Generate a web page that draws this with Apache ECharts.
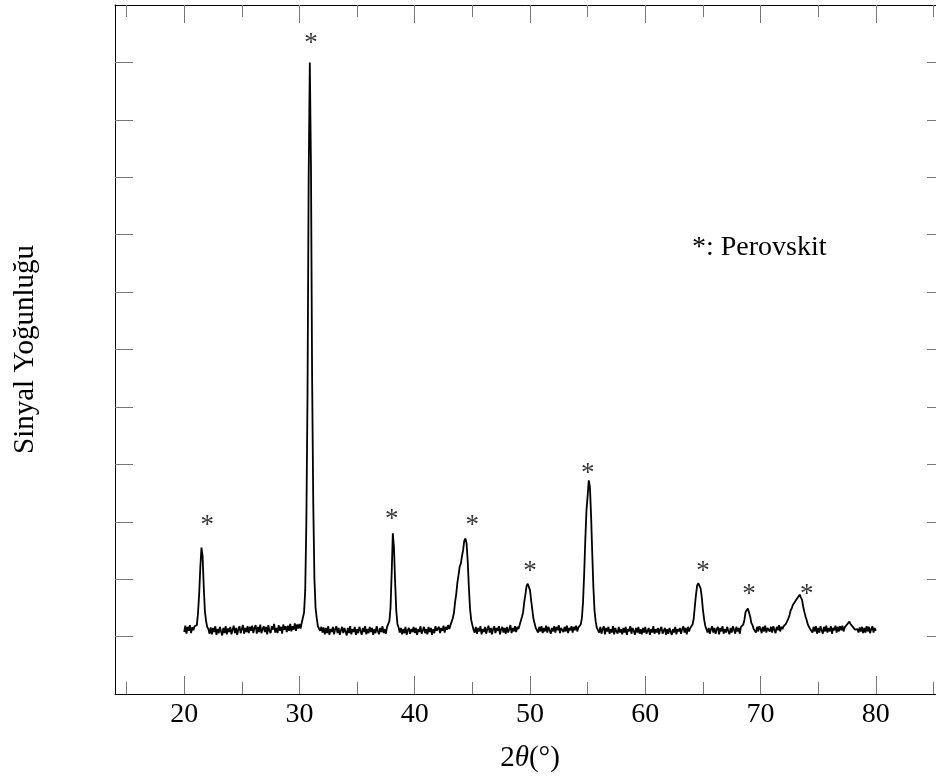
<!DOCTYPE html>
<html>
	<head>
		<meta charset="UTF-8">
		<title>XRD - Perovskit</title>
		<script type="text/javascript" src="https://cdn.jsdelivr.net/npm/echarts@6.0.0/dist/echarts.min.js"></script>
		<style>
			html, body { margin: 0; padding: 0; background: #fff; }
			#chart { width: 936px; height: 780px; }
		</style>
	</head>
	<body>
		<div id="chart"></div>
		<script type="text/javascript">
			// 2θ ölçüm aralığı: 20.0'dan başlayıp 0.1° adımla
			var twoThetaStart = 20.0;
			var twoThetaStep = 0.1;
			// sinyal (her satır 1°: x.0 ... x.9)
			var intensity = [
				0.08, 0.19, 0.05, 0.17, 0.10, 0.20, 0.06, 0.16, 0.11, 0.18, // 20
				0.17, 0.20, 0.41, 0.74, 1.20, 1.55, 1.40, 0.86, 0.44, 0.27, // 21
				0.17, 0.13, 0.05, 0.16, 0.04, 0.15, 0.08, 0.18, 0.03, 0.13, // 22
				0.06, 0.17, 0.09, 0.02, 0.15, 0.06, 0.18, 0.04, 0.14, 0.08, // 23
				0.17, 0.04, 0.12, 0.19, 0.06, 0.15, 0.03, 0.13, 0.18, 0.06, // 24
				0.13, 0.20, 0.05, 0.15, 0.08, 0.18, 0.06, 0.17, 0.10, 0.19, // 25
				0.06, 0.15, 0.20, 0.05, 0.17, 0.08, 0.21, 0.06, 0.13, 0.18, // 26
				0.08, 0.17, 0.04, 0.20, 0.10, 0.06, 0.18, 0.12, 0.22, 0.07, // 27
				0.15, 0.06, 0.20, 0.10, 0.17, 0.05, 0.21, 0.12, 0.18, 0.08, // 28
				0.19, 0.10, 0.22, 0.09, 0.18, 0.12, 0.23, 0.10, 0.21, 0.14, // 29
				0.22, 0.14, 0.24, 0.27, 0.42, 0.80, 2.00, 4.20, 8.00, 10.00, // 30
				8.20, 4.50, 2.30, 1.00, 0.50, 0.32, 0.18, 0.20, 0.10, 0.17, // 31
				0.07, 0.16, 0.04, 0.15, 0.06, 0.18, 0.03, 0.13, 0.08, 0.17, // 32
				0.04, 0.13, 0.18, 0.06, 0.15, 0.03, 0.11, 0.17, 0.06, 0.15, // 33
				0.09, 0.02, 0.15, 0.06, 0.18, 0.04, 0.13, 0.08, 0.17, 0.03, // 34
				0.13, 0.06, 0.17, 0.10, 0.03, 0.15, 0.08, 0.18, 0.04, 0.13, // 35
				0.06, 0.17, 0.08, 0.15, 0.03, 0.13, 0.06, 0.18, 0.10, 0.04, // 36
				0.15, 0.08, 0.18, 0.06, 0.13, 0.05, 0.17, 0.15, 0.27, 0.50, // 37
				1.10, 1.80, 1.55, 0.95, 0.45, 0.22, 0.16, 0.07, 0.15, 0.04, // 38
				0.13, 0.06, 0.17, 0.03, 0.11, 0.15, 0.05, 0.13, 0.08, 0.17, // 39
				0.06, 0.15, 0.03, 0.13, 0.08, 0.18, 0.05, 0.11, 0.17, 0.06, // 40
				0.13, 0.04, 0.17, 0.08, 0.15, 0.03, 0.13, 0.06, 0.18, 0.10, // 41
				0.08, 0.17, 0.06, 0.15, 0.10, 0.19, 0.07, 0.17, 0.12, 0.20, // 42
				0.13, 0.20, 0.21, 0.32, 0.41, 0.60, 0.74, 0.94, 1.07, 1.22, // 43
				1.27, 1.40, 1.51, 1.67, 1.71, 1.62, 1.30, 0.85, 0.48, 0.29, // 44
				0.20, 0.12, 0.07, 0.17, 0.05, 0.15, 0.09, 0.18, 0.04, 0.13, // 45
				0.08, 0.17, 0.05, 0.13, 0.19, 0.07, 0.15, 0.04, 0.13, 0.18, // 46
				0.06, 0.15, 0.10, 0.18, 0.04, 0.13, 0.17, 0.07, 0.15, 0.05, // 47
				0.17, 0.07, 0.13, 0.20, 0.06, 0.15, 0.09, 0.18, 0.08, 0.17, // 48
				0.13, 0.20, 0.23, 0.34, 0.42, 0.60, 0.73, 0.88, 0.92, 0.90, // 49
				0.81, 0.63, 0.47, 0.31, 0.23, 0.15, 0.14, 0.07, 0.17, 0.09, // 50
				0.18, 0.06, 0.15, 0.09, 0.19, 0.07, 0.17, 0.11, 0.05, 0.15, // 51
				0.09, 0.18, 0.07, 0.17, 0.11, 0.20, 0.06, 0.15, 0.18, 0.08, // 52
				0.17, 0.09, 0.19, 0.06, 0.15, 0.11, 0.18, 0.07, 0.17, 0.11, // 53
				0.19, 0.09, 0.16, 0.15, 0.21, 0.32, 0.60, 1.10, 1.70, 2.20, // 54
				2.45, 2.72, 2.60, 2.10, 1.45, 0.85, 0.45, 0.26, 0.15, 0.14, // 55
				0.07, 0.17, 0.05, 0.13, 0.18, 0.04, 0.15, 0.09, 0.17, 0.05, // 56
				0.13, 0.07, 0.18, 0.04, 0.15, 0.09, 0.05, 0.17, 0.07, 0.13, // 57
				0.04, 0.15, 0.07, 0.17, 0.03, 0.13, 0.09, 0.18, 0.05, 0.15, // 58
				0.10, 0.03, 0.15, 0.07, 0.17, 0.05, 0.13, 0.04, 0.15, 0.07, // 59
				0.17, 0.05, 0.10, 0.15, 0.03, 0.13, 0.07, 0.18, 0.05, 0.13, // 60
				0.07, 0.15, 0.04, 0.13, 0.17, 0.05, 0.10, 0.15, 0.03, 0.13, // 61
				0.05, 0.15, 0.09, 0.03, 0.13, 0.07, 0.17, 0.04, 0.13, 0.09, // 62
				0.15, 0.05, 0.13, 0.18, 0.07, 0.15, 0.04, 0.17, 0.09, 0.15, // 63
				0.13, 0.21, 0.31, 0.53, 0.73, 0.89, 0.93, 0.96, 0.84, 0.69, // 64
				0.47, 0.31, 0.19, 0.16, 0.07, 0.15, 0.05, 0.13, 0.18, 0.07, // 65
				0.15, 0.05, 0.13, 0.17, 0.04, 0.15, 0.09, 0.18, 0.05, 0.13, // 66
				0.07, 0.17, 0.10, 0.04, 0.15, 0.07, 0.18, 0.12, 0.05, 0.17, // 67
				0.09, 0.15, 0.05, 0.17, 0.14, 0.21, 0.29, 0.43, 0.46, 0.49, // 68
				0.42, 0.35, 0.24, 0.20, 0.13, 0.15, 0.07, 0.17, 0.09, 0.18, // 69
				0.13, 0.06, 0.17, 0.09, 0.19, 0.07, 0.15, 0.18, 0.09, 0.17, // 70
				0.07, 0.18, 0.12, 0.06, 0.17, 0.11, 0.20, 0.09, 0.17, 0.13, // 71
				0.18, 0.16, 0.22, 0.24, 0.31, 0.36, 0.45, 0.49, 0.55, 0.56, // 72
				0.61, 0.61, 0.67, 0.68, 0.73, 0.68, 0.64, 0.52, 0.43, 0.35, // 73
				0.29, 0.21, 0.19, 0.13, 0.15, 0.07, 0.17, 0.09, 0.18, 0.05, // 74
				0.15, 0.07, 0.18, 0.11, 0.05, 0.17, 0.09, 0.19, 0.07, 0.15, // 75
				0.09, 0.18, 0.05, 0.15, 0.11, 0.19, 0.07, 0.17, 0.09, 0.18, // 76
				0.11, 0.19, 0.09, 0.16, 0.15, 0.21, 0.19, 0.26, 0.22, 0.25, // 77
				0.17, 0.19, 0.12, 0.15, 0.13, 0.07, 0.16, 0.09, 0.17, 0.06, // 78
				0.15, 0.07, 0.18, 0.09, 0.17, 0.06, 0.13, 0.18, 0.07, 0.15, // 79
				0.10                                                        // 80
			];
			// perovskit işaretleri (*)
			var markerX = [22, 31, 38, 45, 50, 55, 65, 69, 74];
			var markerY = [2, 10.4, 2.1, 2, 1.2, 2.9, 1.2, 0.8, 0.8];
			// eksen çentikleri
			var majorTicksX = [20, 30, 40, 50, 60, 70, 80];
			var minorTicksX = [15, 25, 35, 45, 55, 65, 75, 85];
			var ticksY = [0, 1, 2, 3, 4, 5, 6, 7, 8, 9, 10];

			var serif = "'Liberation Serif', 'DejaVu Serif', serif";
			var tickStyle = { color: '#777', width: 1 };
			var frameLine = { show: true, onZero: false, lineStyle: { color: '#000', width: 1 } };

			var lineData = intensity.map(function(v, i) {
				return [+(twoThetaStart + i * twoThetaStep).toFixed(1), v];
			});
			var markerData = markerX.map(function(x, i) {
				return [x, markerY[i]];
			});

			function xAxisBase(pos, ticks, len, line) {
				return {
					type: 'value',
					min: 14,
					max: 86,
					position: pos,
					axisLine: line ? frameLine : { show: false, onZero: false },
					axisTick: { show: true, inside: true, length: len, customValues: ticks, lineStyle: tickStyle },
					axisLabel: { show: false },
					splitLine: { show: false }
				};
			}

			var mainX = xAxisBase('bottom', majorTicksX, 18, true);
			mainX.axisLabel = {
				show: true,
				customValues: majorTicksX,
				fontFamily: serif,
				fontSize: 28,
				color: '#000',
				margin: 7
			};
			mainX.name = '{n|2}{t|θ}{n|(°)}';
			mainX.nameLocation = 'middle';
			mainX.nameGap = 50;
			mainX.nameTextStyle = {
				rich: {
					n: { fontFamily: serif, fontSize: 29, color: '#000' },
					t: { fontFamily: serif, fontSize: 29, fontStyle: 'italic', color: '#000' }
				}
			};

			function yAxisBase(pos) {
				return {
					type: 'value',
					min: -1,
					max: 11,
					interval: 1,
					position: pos,
					axisLine: frameLine,
					axisTick: { show: true, inside: true, length: 18, customValues: ticksY, lineStyle: tickStyle },
					axisLabel: { show: false },
					splitLine: { show: false }
				};
			}
			var leftY = yAxisBase('left');
			leftY.name = 'Sinyal Yoğunluğu';
			leftY.nameLocation = 'middle';
			leftY.nameGap = 75;
			leftY.nameTextStyle = { fontFamily: serif, fontSize: 29, color: '#000' };

			var myChart = echarts.init(document.getElementById('chart'), null, { renderer: 'canvas' });
			myChart.setOption({
				animation: false,
				backgroundColor: '#fff',
				grid: {
					left: 115,
					top: 5,
					width: 830,
					height: 689,
					show: false,
					outerBoundsMode: 'none'
				},
				xAxis: [
					mainX,
					xAxisBase('bottom', minorTicksX, 12, false),
					xAxisBase('top', majorTicksX, 18, true),
					xAxisBase('top', minorTicksX, 12, false)
				],
				yAxis: [leftY, yAxisBase('right')],
				graphic: [{
					type: 'text',
					left: 692,
					top: 234,
					style: {
						text: '*: Perovskit',
						font: "28px 'Liberation Serif'",
						fill: '#000'
					}
				}],
				series: [{
					type: 'line',
					data: lineData,
					showSymbol: false,
					symbol: 'none',
					lineStyle: { color: '#000', width: 1.8 },
					xAxisIndex: 0,
					yAxisIndex: 0
				}, {
					type: 'scatter',
					data: markerData,
					symbolSize: 1,
					itemStyle: { color: 'transparent' },
					label: {
						show: true,
						position: 'inside',
						offset: [0, 4],
						formatter: '*',
						fontFamily: serif,
						fontSize: 27,
						color: '#000'
					},
					xAxisIndex: 0,
					yAxisIndex: 0
				}]
			});
		</script>
	</body>
</html>
